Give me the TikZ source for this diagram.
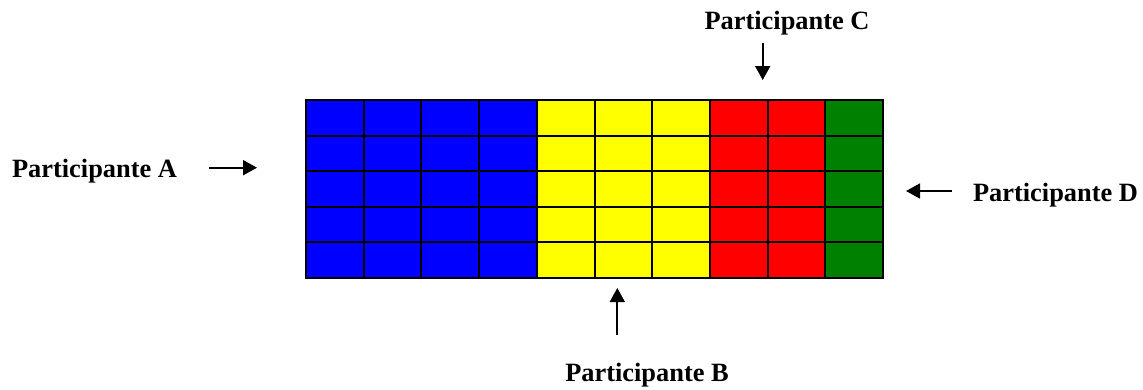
\documentclass[tikz,border=0pt]{standalone}
\usepackage{fontspec}
\setmainfont{Liberation Serif}
\usetikzlibrary{arrows.meta}
\definecolor{grn}{RGB}{0,128,0}
\definecolor{ylw}{RGB}{255,255,0}
\definecolor{blu}{RGB}{0,0,255}
\definecolor{rd}{RGB}{255,0,0}
\begin{document}
\begin{tikzpicture}[x=1pt,y=-1pt,
  lbl/.style={font=\fontsize{26.4}{30}\selectfont\bfseries, inner sep=0pt, anchor=base},
  arr/.style={line width=1.8pt, -{Triangle[width=15pt,length=14pt]}},
  gridline/.style={draw=black, line width=2pt}]
\useasboundingbox (0,0) rectangle (1143,389);
\def\cw{57.7}\def\rh{35.6}
\foreach \c/\col in {0/blu,1/blu,2/blu,3/blu,4/ylw,5/ylw,6/ylw,7/rd,8/rd,9/grn}{
  \fill[\col] (306+\c*\cw, 100) rectangle ++(\cw,5*\rh);
}
\foreach \c in {1,...,9}{
  \draw[gridline] (306+\c*\cw,100) -- (306+\c*\cw,278);
}
\foreach \r in {1,...,4}{
  \draw[gridline] (306,100+\r*\rh) -- (883,100+\r*\rh);
}
\draw[gridline] (306,100) rectangle (883,278);

\node[lbl] (pA) at (94.5,177) {Participante A};
\node[lbl] (pB) at (647,381.7) {Participante B};
\node[lbl] (pC) at (787,29.3) {Participante C};
\node[lbl] (pD) at (1055.5,201.7) {Participante D};

\coordinate (a1) at (209,167.7);  \coordinate (a2) at (257,167.7);
\coordinate (b1) at (617.3,335);  \coordinate (b2) at (617.3,288);
\coordinate (c1) at (762.7,43);   \coordinate (c2) at (762.7,80);
\coordinate (d1) at (952,191);    \coordinate (d2) at (906,191);
\draw[arr] (a1) -- (a2);
\draw[arr] (b1) -- (b2);
\draw[arr] (c1) -- (c2);
\draw[arr] (d1) -- (d2);
\end{tikzpicture}
\end{document}
